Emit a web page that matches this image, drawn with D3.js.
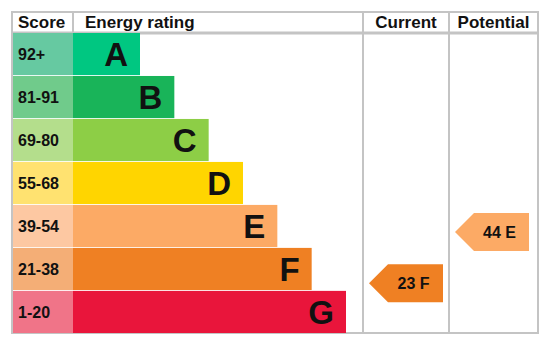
<!DOCTYPE html>
<html>
<head>
<meta charset="utf-8">
<script src="https://cdn.jsdelivr.net/npm/d3@7"></script>
<style>
  body { margin: 0; background: #fff; }
  text { font-family: "Liberation Sans", Arial, sans-serif; font-weight: bold; fill: #111; }
</style>
</head>
<body>
<svg id="chart" width="551" height="346"></svg>
<script>
// bands, top (best) to bottom (worst)
var letters = ["A", "B", "C", "D", "E", "F", "G"];
var scoreLabels = ["92+", "81-91", "69-80", "55-68", "39-54", "21-38", "1-20"];
var bandLow = [92, 81, 69, 55, 39, 21, 1];
var bandHigh = [100, 91, 80, 68, 54, 38, 20];
var barColors = ["#00c781", "#19b459", "#8dce46", "#ffd500", "#fcaa65", "#ef8023", "#e9153b"];
var scoreColors = ["#66c9a1", "#70cb8b", "#b4de8c", "#ffe270", "#fdc8a2", "#f4ae76", "#f07488"];

// current / potential ratings
var columns = ["Current", "Potential"];
var ratingScores = [23, 44];
var ratingLetters = ["F", "E"];

var svg = d3.select("#chart");

// note: "top" is taken by window.top, so prefix the frame edges
var fLeft = 12, fTop = 12, fRight = 538, fBottom = 333, headH = 21;
var scoreW = 61, currentX = 363, potentialX = 449;

var y = d3.scaleBand().domain(letters).range([fTop + headH, fBottom]).paddingInner(0.02);
var barEnd = d3.scaleLinear().domain([0, 6]).range([140, 346]);
var colX = d3.scaleOrdinal().domain(columns).range([currentX, potentialX]);
var colW = d3.scaleOrdinal().domain(columns).range([potentialX - currentX, fRight - potentialX]);

// frame
var grid = svg.append("g").attr("stroke", "#c4c4c4").attr("stroke-width", 2).attr("fill", "none");
grid.append("rect").attr("x", fLeft).attr("y", fTop).attr("width", fRight - fLeft).attr("height", fBottom - fTop);
grid.append("line").attr("x1", fLeft).attr("x2", fRight).attr("y1", fTop + headH).attr("y2", fTop + headH).attr("stroke-width", 3);
grid.append("line").attr("x1", fLeft + scoreW).attr("x2", fLeft + scoreW).attr("y1", fTop).attr("y2", fTop + headH);
[currentX, potentialX].forEach(function(x) {
  grid.append("line").attr("x1", x).attr("x2", x).attr("y1", fTop).attr("y2", fBottom);
});

// headers
svg.append("text").attr("x", 18).attr("y", 28).attr("font-size", 17).text("Score");
svg.append("text").attr("x", 85).attr("y", 28).attr("font-size", 17).text("Energy rating");
columns.forEach(function(c) {
  svg.append("text").attr("x", colX(c) + colW(c) / 2).attr("y", 28)
    .attr("text-anchor", "middle").attr("font-size", 17).text(c);
});

// rows
var rows = svg.selectAll("g.row").data(letters).enter().append("g").attr("class", "row");

rows.append("rect")
  .attr("x", fLeft + 1).attr("y", function(d) { return y(d); })
  .attr("width", scoreW - 1).attr("height", y.bandwidth())
  .attr("fill", function(d, i) { return scoreColors[i]; });

rows.append("rect")
  .attr("x", fLeft + scoreW).attr("y", function(d) { return y(d); })
  .attr("width", function(d, i) { return barEnd(i) - fLeft - scoreW; })
  .attr("height", y.bandwidth())
  .attr("fill", function(d, i) { return barColors[i]; });

rows.append("text")
  .attr("x", 18).attr("y", function(d) { return y(d) + y.bandwidth() / 2 + 6; })
  .attr("font-size", 16)
  .text(function(d, i) { return scoreLabels[i]; });

rows.append("text")
  .attr("x", function(d, i) { return barEnd(i) - 12; })
  .attr("y", function(d) { return y(d) + y.bandwidth() / 2 + 12; })
  .attr("text-anchor", "end").attr("font-size", 33)
  .text(function(d) { return d; });

// arrow position inside its band, low scores toward the band bottom
function scoreY(s, letter) {
  var i = letters.indexOf(letter);
  var f = (s - bandLow[i]) / (bandHigh[i] - bandLow[i] + 1);
  return y(letter) + y.bandwidth() * (1 - f) - 2;
}

columns.forEach(function(c, k) {
  var cy = scoreY(ratingScores[k], ratingLetters[k]);
  var x0 = colX(c) + 6, x1 = x0 + 74, h = 38, tip = 19;
  var idx = letters.indexOf(ratingLetters[k]);
  svg.append("path")
    .attr("d", "M" + x0 + "," + cy + "L" + (x0 + tip) + "," + (cy - h / 2) + "H" + x1 +
      "V" + (cy + h / 2) + "H" + (x0 + tip) + "Z")
    .attr("fill", barColors[idx]);
  svg.append("text")
    .attr("x", (x0 + tip + x1) / 2 - 2).attr("y", cy + 6)
    .attr("text-anchor", "middle").attr("font-size", 16)
    .text(ratingScores[k] + " " + ratingLetters[k]);
});
</script>
</body>
</html>
